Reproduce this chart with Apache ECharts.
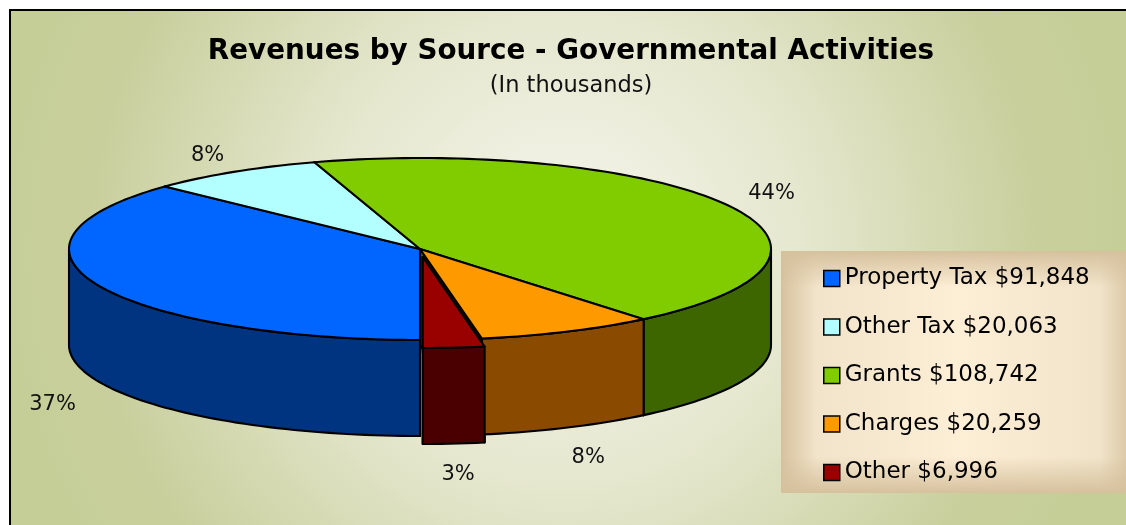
<!DOCTYPE html>
<html lang="en">
<head>
  <meta charset="UTF-8">
  <title>Revenues by Source - Governmental Activities</title>
  <script src="https://cdn.jsdelivr.net/npm/echarts@6/dist/echarts.min.js"></script>
  <style>
    html, body { margin: 0; padding: 0; background: #fff; }
  </style>
</head>
<body>
  <div id="chart" style="width: 1126px; height: 525px"></div>

  <script>
    // data (thousands of dollars)
    const categories = ['Property Tax', 'Other Tax', 'Grants', 'Charges', 'Other']
    const amounts = [91848, 20063, 108742, 20259, 6996]

    const topColors = ['#0066ff', '#b3ffff', '#80cc00', '#ff9900', '#990000']
    const sideColors = ['#003380', '#5a8080', '#3d6600', '#8a4b00', '#4a0000']

    const DEPTH = 1.055      // pie thickness, in units of the vertical radius
    const EXPLODE = { 4: 0.088 } // the "Other" slice is pulled out a little
    const LW = 2.1
    const total = amounts.reduce((a, b) => a + b, 0)

    const dom = document.getElementById('chart')
    const myChart = echarts.init(dom)

    const rad = d => d * Math.PI / 180

    function fmt(n) {
      return String(n).replace(/\B(?=(\d{3})+(?!\d))/g, ',')
    }

    function renderSlice(i, api) {
      let cum = 0
      for (let j = 0; j < i; j++) cum += amounts[j]
      // start at the front (6 o'clock) and go round clockwise
      const a0 = 90 + 360 * cum / total
      const a1 = a0 + 360 * amounts[i] / total
      const mid = (a0 + a1) / 2
      const e = EXPLODE[i] || 0
      const ox = e * Math.cos(rad(mid))
      const oy = -e * Math.sin(rad(mid))
      const pt = (a, r, z) => api.coord([ox + r * Math.cos(rad(a)), oy - r * Math.sin(rad(a)) + z])
      const arc = (s, t, z) => {
        const n = Math.max(2, Math.ceil((t - s) / 1.5))
        const pts = []
        for (let k = 0; k <= n; k++) pts.push(pt(s + (t - s) * k / n, 1, z))
        return pts
      }
      const children = []

      // radial cut faces
      ;[a0, a1].forEach(a => {
        children.push({
          type: 'polygon',
          z2: 100 + Math.round(40 * Math.sin(rad(a))),
          shape: { points: [pt(a, 0, 0), pt(a, 1, 0), pt(a, 1, -DEPTH), pt(a, 0, -DEPTH)] },
          style: { fill: sideColors[i], stroke: '#000', lineWidth: LW, lineJoin: 'round' }
        })
      })

      // outer wall, only the front half shows
      ;[[0, 180], [360, 540]].forEach(([lo, hi]) => {
        const s = Math.max(a0, lo)
        const t = Math.min(a1, hi)
        if (t > s) {
          children.push({
            type: 'polygon',
            z2: 200,
            shape: { points: arc(s, t, 0).concat(arc(s, t, -DEPTH).reverse()) },
            style: { fill: sideColors[i], stroke: '#000', lineWidth: LW, lineJoin: 'round' }
          })
        }
      })

      // top face
      children.push({
        type: 'polygon',
        z2: 300,
        shape: { points: [pt(a0, 0, 0)].concat(arc(a0, a1, 0)) },
        style: { fill: topColors[i], stroke: '#000', lineWidth: LW, lineJoin: 'round' }
      })

      // percent label outside the slice
      const front = Math.sin(rad(mid)) > 0
      const lp = api.coord([
        ox + 1.14 * Math.cos(rad(mid)),
        oy - 1.14 * Math.sin(rad(mid)) + (front ? -DEPTH - 0.2 : 0.066)
      ])
      children.push({
        type: 'text',
        z2: 400,
        x: lp[0],
        y: lp[1],
        style: {
          text: Math.round(amounts[i] / total * 100) + '%',
          align: 'center',
          verticalAlign: 'middle',
          fill: '#111',
          font: '21px "DejaVu Sans"'
        }
      })

      return { type: 'group', children: children }
    }

    const option = {
      animation: false,
      title: {
        text: 'Revenues by Source - Governmental Activities',
        subtext: '(In thousands)',
        left: 571,
        top: 38,
        textAlign: 'center',
        padding: 0,
        itemGap: 9,
        textStyle: { fontFamily: 'DejaVu Sans', fontSize: 27.8, fontWeight: 'bold', color: '#000' },
        subtextStyle: { fontFamily: 'DejaVu Sans', fontSize: 22.5, color: '#111' }
      },
      graphic: [
        {
          type: 'rect',
          z: -10,
          shape: { x: 10, y: 10, width: 1130, height: 530 },
          style: {
            stroke: '#000',
            lineWidth: 2,
            fill: {
              type: 'radial', x: 0.49, y: 0.45, r: 1.05,
              colorStops: [
                { offset: 0, color: '#f6f6ee' },
                { offset: 0.45, color: '#e4e6cc' },
                { offset: 0.85, color: '#c8cf9c' },
                { offset: 1, color: '#c6ce98' }
              ]
            }
          }
        },
        {
          type: 'rect',
          z: -9,
          shape: { x: 781, y: 251, width: 354, height: 242 },
          style: {
            fill: {
              type: 'linear', x: 0, y: 0, x2: 1, y2: 0,
              colorStops: [
                { offset: 0, color: '#d6c19d' },
                { offset: 0.1, color: '#f1e4ca' },
                { offset: 0.5, color: '#fdeed6' },
                { offset: 0.9, color: '#f1e4ca' },
                { offset: 1, color: '#d6c19d' }
              ]
            }
          }
        },
        {
          type: 'rect',
          z: -8,
          shape: { x: 781, y: 251, width: 354, height: 242 },
          style: {
            fill: {
              type: 'linear', x: 0, y: 0, x2: 0, y2: 1,
              colorStops: [
                { offset: 0, color: 'rgba(214,193,157,1)' },
                { offset: 0.15, color: 'rgba(214,193,157,0)' },
                { offset: 0.85, color: 'rgba(214,193,157,0)' },
                { offset: 1, color: 'rgba(214,193,157,1)' }
              ]
            }
          }
        }
      ],
      legend: {
        data: categories,
        orient: 'vertical',
        left: 823,
        top: 267,
        padding: 0,
        icon: 'rect',
        itemWidth: 16,
        itemHeight: 16,
        itemGap: 25.5,
        selectedMode: false,
        itemStyle: { borderColor: '#000', borderWidth: 1.5 },
        textStyle: { fontFamily: 'DejaVu Sans', fontSize: 23, color: '#000' },
        formatter: name => name + ' $' + fmt(amounts[categories.indexOf(name)])
      },
      grid: { left: 69, right: 355, top: 158, bottom: 89 },
      xAxis: { type: 'value', min: -1, max: 1, show: false },
      yAxis: { type: 'value', min: -1 - DEPTH, max: 1, show: false },
      series: categories.map((name, i) => ({
        name: name,
        type: 'custom',
        coordinateSystem: 'cartesian2d',
        clip: false,
        silent: true,
        itemStyle: { color: topColors[i] },
        data: [[0, 0, amounts[i]]],
        encode: { x: 0, y: 1 },
        renderItem: (params, api) => renderSlice(i, api)
      }))
    }

    myChart.setOption(option)
  </script>
</body>
</html>
